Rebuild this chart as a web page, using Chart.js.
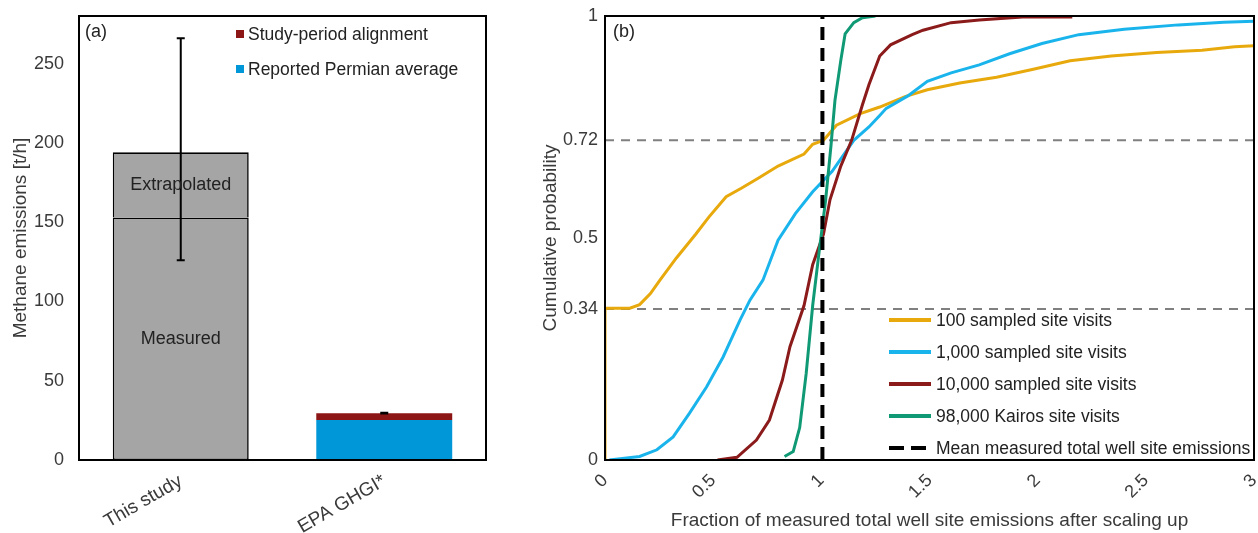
<!DOCTYPE html>
<html>
<head>
<meta charset="utf-8">
<script src="https://cdn.jsdelivr.net/npm/chart.js@4.4.1/dist/chart.umd.min.js"></script>
<style>
  html, body { margin: 0; padding: 0; background: #ffffff; }
  #wrap { position: relative; width: 1258px; height: 533px; overflow: hidden; }
  #ca { position: absolute; left: 0; top: 0; }
  #cb { position: absolute; left: 520px; top: 0; }
</style>
</head>
<body>
<div id="wrap">
  <canvas id="ca" width="500" height="533"></canvas>
  <canvas id="cb" width="738" height="533"></canvas>
</div>
<script>
// ---------- Panel (a) data ----------
const catsA = ['This study', 'EPA GHGI*'];
const measured = [153, null];
const extrapolated = [41, null];
const permianAvg = [null, 25.3];
const alignment = [null, 4.2];
const errLow = [126, 29.3];
const errHigh = [266, 29.8];
const yTicksA = [0, 50, 100, 150, 200, 250];

// ---------- Panel (b) data ----------
const s100X = [0, 0, 0.115, 0.16, 0.21, 0.254, 0.33, 0.42, 0.48, 0.56, 0.63, 0.71, 0.80, 0.92, 0.96, 1.01, 1.07, 1.18, 1.27, 1.39, 1.49, 1.64, 1.81, 1.98, 2.15, 2.34, 2.55, 2.76, 2.91, 3.0];
const s100Y = [0, 0.342, 0.342, 0.35, 0.375, 0.405, 0.455, 0.509, 0.547, 0.593, 0.612, 0.635, 0.662, 0.689, 0.711, 0.72, 0.754, 0.780, 0.795, 0.819, 0.834, 0.849, 0.862, 0.880, 0.899, 0.910, 0.918, 0.923, 0.931, 0.933];
const s1000X = [0.02, 0.16, 0.24, 0.315, 0.39, 0.47, 0.546, 0.624, 0.67, 0.73, 0.80, 0.88, 0.96, 1.05, 1.15, 1.22, 1.27, 1.30, 1.40, 1.49, 1.60, 1.73, 1.87, 2.02, 2.19, 2.40, 2.65, 2.86, 3.0];
const s1000Y = [0, 0.008, 0.023, 0.052, 0.105, 0.165, 0.232, 0.315, 0.36, 0.405, 0.495, 0.555, 0.604, 0.65, 0.72, 0.75, 0.776, 0.792, 0.82, 0.853, 0.872, 0.89, 0.915, 0.938, 0.958, 0.97, 0.98, 0.986, 0.988];
const s10000X = [0.52, 0.61, 0.70, 0.76, 0.82, 0.855, 0.92, 0.96, 1.01, 1.04, 1.09, 1.14, 1.19, 1.22, 1.27, 1.32, 1.42, 1.47, 1.60, 1.73, 1.93, 2.16];
const s10000Y = [0, 0.006, 0.045, 0.09, 0.18, 0.255, 0.348, 0.440, 0.509, 0.586, 0.662, 0.72, 0.80, 0.845, 0.91, 0.935, 0.958, 0.968, 0.985, 0.991, 0.998, 0.998];
const kairosX = [0.83, 0.87, 0.90, 0.93, 0.96, 0.99, 1.02, 1.045, 1.063, 1.09, 1.11, 1.15, 1.19, 1.25];
const kairosY = [0.008, 0.019, 0.073, 0.195, 0.348, 0.47, 0.586, 0.71, 0.81, 0.9, 0.96, 0.985, 0.996, 1.0];
const yTicksB = [0, 0.34, 0.5, 0.72, 1];
const refLevels = [0.34, 0.72];
const meanX = 1.005;
const xRangeB = [0, 3];

const FONT = "'Liberation Sans', Arial, Helvetica, sans-serif";
const TXT = '#3a3a3a';

function pts(xs, ys) { return xs.map((x, i) => ({ x: x, y: ys[i] })); }
function noPad(s) { s.paddingLeft = 0; s.paddingRight = 0; s.paddingTop = 0; s.paddingBottom = 0; }

// ---------- Plugins ----------
const framePlugin = {
  id: 'frame',
  afterDraw(chart, args, opts) {
    const a = chart.chartArea, c = chart.ctx;
    c.save();
    c.strokeStyle = '#000';
    c.lineWidth = opts.width || 2;
    c.strokeRect(a.left, a.top, a.right - a.left, a.bottom - a.top);
    c.restore();
  }
};

const panelAExtras = {
  id: 'panelAExtras',
  afterDatasetsDraw(chart) {
    const c = chart.ctx, a = chart.chartArea;
    const xs = chart.scales.x, ys = chart.scales.y;
    c.save();
    // error bars
    c.strokeStyle = '#000';
    c.lineWidth = 2;
    errLow.forEach((lo, i) => {
      const x = xs.getPixelForValue(i);
      const y1 = ys.getPixelForValue(lo), y2 = ys.getPixelForValue(errHigh[i]);
      c.beginPath();
      c.moveTo(x, y1); c.lineTo(x, y2);
      c.moveTo(x - 4, y1); c.lineTo(x + 4, y1);
      c.moveTo(x - 4, y2); c.lineTo(x + 4, y2);
      c.stroke();
    });
    // segment labels
    c.fillStyle = '#222';
    c.font = '18px ' + FONT;
    c.textAlign = 'center';
    c.textBaseline = 'middle';
    [[0, 'Measured'], [1, 'Extrapolated']].forEach(([di, txt]) => {
      const el = chart.getDatasetMeta(di).data[0];
      c.fillText(txt, el.x, (el.y + el.base) / 2);
    });
    // panel tag
    c.textAlign = 'left';
    c.fillText('(a)', a.left + 6, a.top + 16);
    // legend
    const items = [[3, a.top + 18], [2, a.top + 53]];
    items.forEach(([di, y]) => {
      const ds = chart.data.datasets[di];
      c.fillStyle = ds.backgroundColor;
      c.fillRect(a.left + 157, y - 4, 8, 8);
      c.fillStyle = '#222';
      c.font = '17.5px ' + FONT;
      c.fillText(ds.label, a.left + 169, y + 1);
    });
    c.restore();
  }
};

const panelBExtras = {
  id: 'panelBExtras',
  afterDraw(chart) {
    const c = chart.ctx, a = chart.chartArea;
    c.save();
    c.fillStyle = '#222';
    c.font = '18px ' + FONT;
    c.textAlign = 'left';
    c.textBaseline = 'middle';
    c.fillText('(b)', a.left + 8, a.top + 16);
    const legendSets = chart.data.datasets.filter(d => d.showInLegend);
    legendSets.forEach((ds, i) => {
      const y = a.top + 304 + i * 32;
      const x0 = a.left + 284;
      c.strokeStyle = ds.borderColor;
      c.lineWidth = 4;
      c.setLineDash(ds.borderDash ? [15, 7] : []);
      c.beginPath();
      c.moveTo(x0, y); c.lineTo(x0 + 42, y);
      c.stroke();
      c.setLineDash([]);
      c.fillStyle = '#222';
      c.font = '17.5px ' + FONT;
      c.fillText(ds.label, x0 + 47, y + 1);
    });
    c.restore();
  }
};

// ---------- Chart (a) ----------
new Chart(document.getElementById('ca'), {
  type: 'bar',
  data: {
    labels: catsA,
    datasets: [
      { label: 'Measured', data: measured, backgroundColor: '#a5a5a5', borderColor: '#000', borderWidth: 1.6, borderSkipped: false },
      { label: 'Extrapolated', data: extrapolated, backgroundColor: '#a5a5a5', borderColor: '#000', borderWidth: 1.6, borderSkipped: 'start' },
      { label: 'Reported Permian average', data: permianAvg, backgroundColor: '#0097d8', borderWidth: 0 },
      { label: 'Study-period alignment', data: alignment, backgroundColor: '#8c1515', borderWidth: 0 }
    ]
  },
  options: {
    responsive: false,
    animation: false,
    devicePixelRatio: 1,
    layout: { padding: { top: 16, right: 14, left: 0, bottom: 0 } },
    datasets: { bar: { barPercentage: 0.668, categoryPercentage: 1 } },
    plugins: { legend: { display: false }, tooltip: { enabled: false }, frame: { width: 2 } },
    scales: {
      x: {
        stacked: true,
        grid: { display: false, drawTicks: false },
        border: { display: false },
        ticks: { color: TXT, font: { family: FONT, size: 19 }, minRotation: 30, maxRotation: 30, padding: 10 },
        afterFit(s) { s.height = 73; noPad(s); }
      },
      y: {
        stacked: true,
        min: 0, max: 280,
        grid: { display: false, drawTicks: false },
        border: { display: false },
        afterBuildTicks(s) { s.ticks = yTicksA.map(v => ({ value: v })); },
        ticks: { color: TXT, font: { family: FONT, size: 18 }, padding: 15 },
        title: { display: true, text: 'Methane emissions [t/h]', color: TXT, font: { family: FONT, size: 19 }, padding: { top: 9, bottom: 0 } },
        afterFit(s) { s.width = 79; noPad(s); }
      }
    }
  },
  plugins: [framePlugin, panelAExtras]
});

// ---------- Chart (b) ----------
const dsB = [
  { label: '100 sampled site visits', data: pts(s100X, s100Y), borderColor: '#e8a90c', showInLegend: true, order: 4 },
  { label: '1,000 sampled site visits', data: pts(s1000X, s1000Y), borderColor: '#1ab4ec', showInLegend: true, order: 3 },
  { label: '10,000 sampled site visits', data: pts(s10000X, s10000Y), borderColor: '#8b1a1a', showInLegend: true, order: 2 },
  { label: '98,000 Kairos site visits', data: pts(kairosX, kairosY), borderColor: '#0f9a75', showInLegend: true, order: 1 },
  { label: 'Mean measured total well site emissions', data: [{ x: meanX, y: 0 }, { x: meanX, y: 1 }], borderColor: '#000', borderWidth: 4, borderDash: [13, 8], showInLegend: true, order: 0 }
];
refLevels.forEach(l => {
  dsB.push({ label: 'ref ' + l, data: [{ x: xRangeB[0], y: l }, { x: xRangeB[1], y: l }], borderColor: '#808080', borderWidth: 2, borderDash: [9, 7], showInLegend: false, order: 10 });
});

new Chart(document.getElementById('cb'), {
  type: 'line',
  data: { datasets: dsB },
  options: {
    responsive: false,
    animation: false,
    devicePixelRatio: 1,
    layout: { padding: { top: 16, right: 4, left: 0, bottom: 0 } },
    datasets: { line: { borderWidth: 3, pointRadius: 0, tension: 0, fill: false } },
    plugins: { legend: { display: false }, tooltip: { enabled: false }, frame: { width: 2 } },
    scales: {
      x: {
        type: 'linear', min: xRangeB[0], max: xRangeB[1],
        grid: { display: false, drawTicks: false },
        border: { display: false },
        ticks: { stepSize: 0.5, color: TXT, font: { family: FONT, size: 18 }, minRotation: 45, maxRotation: 45, padding: 10, callback: v => String(v) },
        title: { display: true, text: 'Fraction of measured total well site emissions after scaling up', color: TXT, font: { family: FONT, size: 19 }, padding: { top: 0, bottom: 1 } },
        afterFit(s) { s.height = 73; noPad(s); }
      },
      y: {
        min: 0, max: 1,
        grid: { display: false, drawTicks: false },
        border: { display: false },
        afterBuildTicks(s) { s.ticks = yTicksB.map(v => ({ value: v })); },
        ticks: { color: TXT, font: { family: FONT, size: 18 }, padding: 7, callback: v => String(v) },
        title: { display: true, text: 'Cumulative probability', color: TXT, font: { family: FONT, size: 19 }, padding: { top: 19, bottom: 0 } },
        afterFit(s) { s.width = 85; noPad(s); }
      }
    }
  },
  plugins: [framePlugin, panelBExtras]
});
</script>
</body>
</html>
